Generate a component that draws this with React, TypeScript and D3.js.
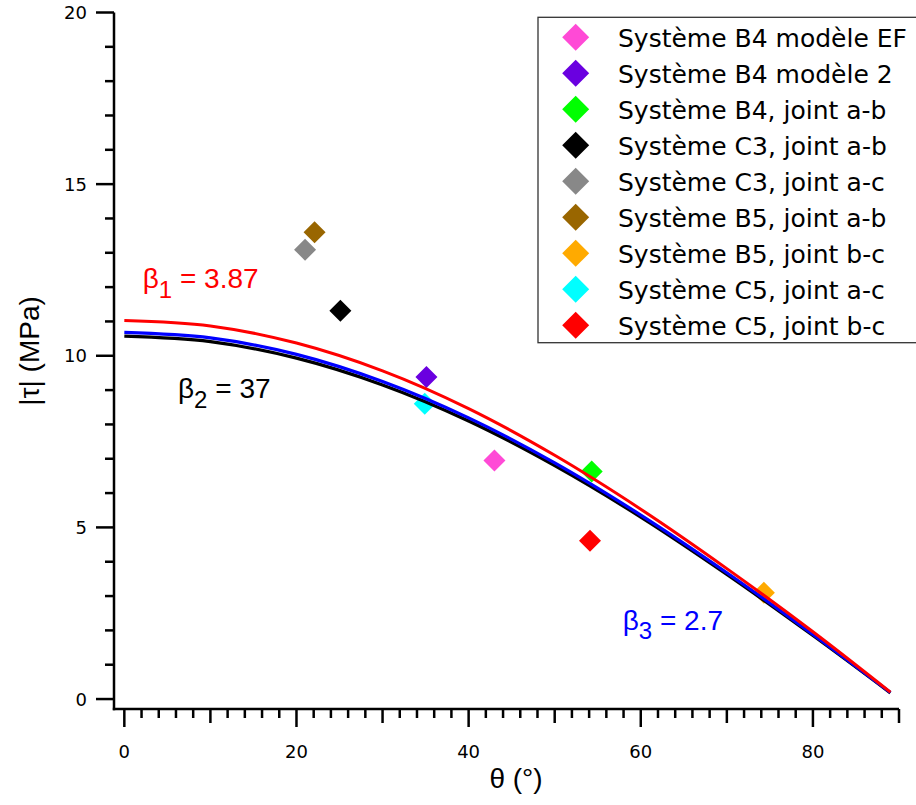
import React from "react";
import * as d3 from "d3";

const curveTheta = [0, 10, 20, 30, 40, 50, 60, 70, 80, 89];
const curveBeta1 = [11.03, 10.87, 10.37, 9.56, 8.46, 7.1, 5.53, 3.8, 1.96, 0.2];
const curveBeta3 = [10.68, 10.52, 10.04, 9.25, 8.19, 6.88, 5.36, 3.68, 1.88, 0.19];
const curveBeta2 = [10.57, 10.41, 9.93, 9.15, 8.1, 6.8, 5.3, 3.63, 1.85, 0.18];

const seriesNames = [
  "Système B4 modèle EF",
  "Système B4 modèle 2",
  "Système B4, joint a-b",
  "Système C3, joint a-b",
  "Système C3, joint a-c",
  "Système B5, joint a-b",
  "Système B5, joint b-c",
  "Système C5, joint a-c",
  "Système C5, joint b-c",
];
const seriesColors = [
  "#ff4ad6",
  "#6a00e0",
  "#00ff00",
  "#000000",
  "#888888",
  "#996600",
  "#ffaa00",
  "#00ffff",
  "#ff0000",
];
const pointTheta = [43, 35.1, 54.3, 25.1, 21, 22.1, 74.3, 34.9, 54.1];
const pointTau = [6.95, 9.38, 6.63, 11.31, 13.09, 13.6, 3.1, 8.6, 4.61];

const xMajorTicks = [0, 20, 40, 60, 80];
const yMajorTicks = [0, 5, 10, 15, 20];

export default function App() {
  const W = 916;
  const H = 805;
  const x = d3.scaleLinear().domain([-1.2, 90]).range([114, 899]);
  const y = d3.scaleLinear().domain([-0.29, 20]).range([709, 12.5]);

  const line = (vals: number[]) =>
    d3
      .line<number>()
      .x((_, i) => x(curveTheta[i]))
      .y((v) => y(v))
      .curve(d3.curveCatmullRom.alpha(0.5))(vals) as string;

  const xMinor = d3.range(0, 91, 2);
  const yMinor = d3.range(0, 21, 1);

  const diamond = (cx: number, cy: number, r: number) =>
    `M${cx},${cy - r}L${cx + r},${cy}L${cx},${cy + r}L${cx - r},${cy}Z`;

  const sans = "'DejaVu Sans', Verdana, sans-serif";
  const arial = "'Liberation Sans', Arial, sans-serif";

  return (
    <svg
      width={W}
      height={H}
      style={{ position: "absolute", left: 0, top: 0, background: "#fff" }}
    >
      {/* axes */}
      <line x1={114} y1={12.5} x2={114} y2={710.2} stroke="#000" strokeWidth={2.5} />
      <line x1={112.8} y1={709} x2={899} y2={709} stroke="#000" strokeWidth={2.5} />
      {yMinor.map((v) => {
        const major = v % 5 === 0;
        return (
          <line
            key={"yt" + v}
            x1={major ? 96 : 105}
            x2={114}
            y1={y(v)}
            y2={y(v)}
            stroke="#000"
            strokeWidth={2.5}
          />
        );
      })}
      {yMajorTicks.map((v) => (
        <text
          key={"yl" + v}
          x={87}
          y={y(v)}
          dy="0.36em"
          textAnchor="end"
          fontFamily={sans}
          fontSize={18}
        >
          {v}
        </text>
      ))}
      {xMinor.map((v) => {
        const len = v % 20 === 0 ? 18 : v % 10 === 0 ? 14 : 9;
        return (
          <line
            key={"xt" + v}
            x1={x(v)}
            x2={x(v)}
            y1={709}
            y2={709 + len}
            stroke="#000"
            strokeWidth={2.5}
          />
        );
      })}
      {xMajorTicks.map((v) => (
        <text
          key={"xl" + v}
          x={x(v)}
          y={758}
          textAnchor="middle"
          fontFamily={sans}
          fontSize={18}
        >
          {v}
        </text>
      ))}
      <text
        x={516}
        y={788}
        textAnchor="middle"
        fontFamily={arial}
        fontSize={28}
      >
        θ (°)
      </text>
      <text
        transform={`translate(39,351) rotate(-90)`}
        textAnchor="middle"
        fontFamily={arial}
        fontSize={28}
      >
        |τ| (MPa)
      </text>

      {/* points */}
      {pointTheta.map((t, i) => (
        <path key={"p" + i} d={diamond(x(t), y(pointTau[i]), 11)} fill={seriesColors[i]} />
      ))}

      {/* curves */}
      <path d={line(curveBeta2)} fill="none" stroke="#000" strokeWidth={3.2} />
      <path d={line(curveBeta3)} fill="none" stroke="#0000ff" strokeWidth={3.2} />
      <path d={line(curveBeta1)} fill="none" stroke="#ff0000" strokeWidth={3} />

      {/* annotations */}
      <text x={142.7} y={288} fontFamily={arial} fontSize={28} fill="#ff0000">
        β<tspan fontSize={24} dy={9.5}>1</tspan>
        <tspan dy={-9.5}> = 3.87</tspan>
      </text>
      <text x={178} y={398} fontFamily={arial} fontSize={28} fill="#000">
        β<tspan fontSize={24} dy={9.5}>2</tspan>
        <tspan dy={-9.5}> = 37</tspan>
      </text>
      <text x={622.7} y={629.5} fontFamily={arial} fontSize={28} fill="#0000ff">
        β<tspan fontSize={24} dy={9.5}>3</tspan>
        <tspan dy={-9.5}> = 2.7</tspan>
      </text>

      {/* legend */}
      <rect x={538} y={17.3} width={380} height={325.4} fill="#fff" stroke="#333" strokeWidth={1.3} />
      {seriesNames.map((n, i) => {
        const cy = 37.3 + 36 * i;
        return (
          <g key={"lg" + i}>
            <path d={diamond(575.7, cy, 13.5)} fill={seriesColors[i]} />
            <text x={618} y={cy + 9.5} fontFamily={sans} fontSize={25}>
              {n}
            </text>
          </g>
        );
      })}
    </svg>
  );
}
